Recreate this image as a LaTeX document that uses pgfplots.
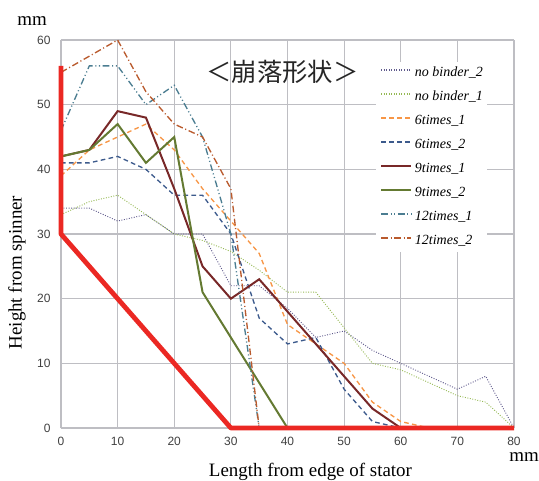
\documentclass[border=0pt]{standalone}
\usepackage{pgfplots}
\pgfplotsset{compat=1.18}
\usepackage{fontspec}
\setmainfont{Liberation Serif}
\newfontfamily\sans{Liberation Sans}
\newfontfamily\cjk{Noto Sans CJK JP}
\definecolor{cPurple}{RGB}{95,90,140}
\definecolor{cGreenL}{RGB}{150,185,85}
\definecolor{cOrange}{RGB}{247,150,70}
\definecolor{cBlue}{RGB}{60,90,140}
\definecolor{cRed}{RGB}{120,40,40}
\definecolor{cOlive}{RGB}{100,122,50}
\definecolor{cTeal}{RGB}{75,125,145}
\definecolor{cBrown}{RGB}{185,90,45}
\definecolor{cRedT}{RGB}{235,40,35}
\definecolor{cGrid}{RGB}{190,190,195}
\begin{document}
\begin{tikzpicture}
\useasboundingbox (-45.75pt,-39pt) rectangle (358.5pt,321pt);
\begin{axis}[
  at={(0,0)}, anchor=south west,
  scale only axis, width=339.75pt, height=291pt,
  xmin=0, xmax=80, ymin=0, ymax=60,
  xtick={0,10,...,80}, ytick={0,10,...,60},
  grid=major,
  major grid style={draw=cGrid, line width=0.9pt},
  axis lines=left,
  axis line style={draw=cGrid, line width=1.4pt, -},
  major tick length=0pt,
  /pgf/number format/assume math mode=true,
  ticklabel style={font=\sans\fontsize{9}{10}\selectfont, text=black!75},
  yticklabel style={inner sep=0pt, xshift=-7.7pt},
  xticklabel style={inner sep=0pt, yshift=-7pt},
  legend cell align=left,
  legend style={at={(axis cs:55.6,56.6)}, anchor=north west, draw=none,
    fill=white,
    inner xsep=3pt, inner ysep=3pt,
    font=\itshape\fontsize{10.5}{12}\selectfont,
    nodes={inner sep=0pt, text height=7.5pt, text depth=2.5pt},
    row sep=8pt, column sep=2pt},
  legend image code/.code={\draw[#1, line width=1.6pt] (0pt,2.5pt) -- (22.5pt,2.5pt);},
  clip=false,
]
\addplot[color=cPurple, line width=0.7pt, dash pattern=on 0.7pt off 1.2pt] coordinates {
(0,34) (5,34) (10,32) (15,33) (20,30) (25,30) (30,22) (35,22) (40,18.5) (45,14) (50,15) (55,12) (60,10) (65,8) (70,6) (75,8) (80,0)};
\addlegendentry{no binder\_2}
\addplot[color=cGreenL, line width=0.7pt, dash pattern=on 0.7pt off 1.2pt] coordinates {
(0,33) (5,35) (10,36) (15,33) (20,30) (25,29) (30,27.3) (35,24.4) (40,21) (45,21) (50,15.5) (55,10) (60,9) (65,7) (70,5) (75,4) (80,0)};
\addlegendentry{no binder\_1}
\addplot[color=cOrange, line width=1pt, dash pattern=on 3.5pt off 2.5pt] coordinates {
(0,39) (5,43) (10,45) (15,47) (20,43) (25,37) (30,32) (35,27) (40,16) (45,13) (50,10) (55,4) (60,1) (65,0)};
\addlegendentry{6times\_1}
\addplot[color=cBlue, line width=1pt, dash pattern=on 3.5pt off 2.5pt] coordinates {
(0,41) (5,41) (10,42) (15,40) (20,36) (25,36) (30,30) (35,17) (40,13) (45,14) (50,6) (55,1) (60,0)};
\addlegendentry{6times\_2}
\addplot[color=cRed, line width=1.5pt] coordinates {
(0,42) (5,43) (10,49) (15,48) (20,37) (25,25) (30,20) (35,23) (40,18) (45,13) (50,8) (55,3) (60,0)};
\addlegendentry{9times\_1}
\addplot[color=cOlive, line width=1.5pt] coordinates {
(0,42) (5,43) (10,47) (15,41) (20,45) (25,21) (30,14) (35,7) (40,0)};
\addlegendentry{9times\_2}
\addplot[color=cTeal, line width=1pt, dash pattern=on 5pt off 2pt on 0.8pt off 2pt on 0.8pt off 2pt] coordinates {
(0,46) (5,56) (10,56) (15,50) (20,53) (25,45) (30,30) (35,0)};
\addlegendentry{12times\_1}
\addplot[color=cBrown, line width=1pt, dash pattern=on 5pt off 2pt on 0.8pt off 2pt] coordinates {
(0,55) (5,57.5) (10,60) (15,52) (20,47) (25,45) (30,37) (35,0)};
\addlegendentry{12times\_2}
\addplot[color=cRedT, line width=3.6pt, line join=round, forget plot] coordinates {
(0,56) (0,30) (30,0) (80,0)};
\node[font=\cjk\fontsize{19}{21}\selectfont, text=black!85] at (axis cs:39.1,55.05) {＜崩落形状＞};
\end{axis}
\node[font=\fontsize{14.2}{16}\selectfont, anchor=base] at (187.1pt,-36pt) {Length from edge of stator};
\node[font=\fontsize{14.2}{16}\selectfont, anchor=base, rotate=90] at (-29.5pt,116.6pt) {Height from spinner};
\node[font=\fontsize{14.2}{16}\selectfont, anchor=base] at (-21.75pt,302.25pt) {mm};
\node[font=\fontsize{14.2}{16}\selectfont, anchor=base] at (347.4pt,-25.3pt) {mm};
\end{tikzpicture}
\end{document}
